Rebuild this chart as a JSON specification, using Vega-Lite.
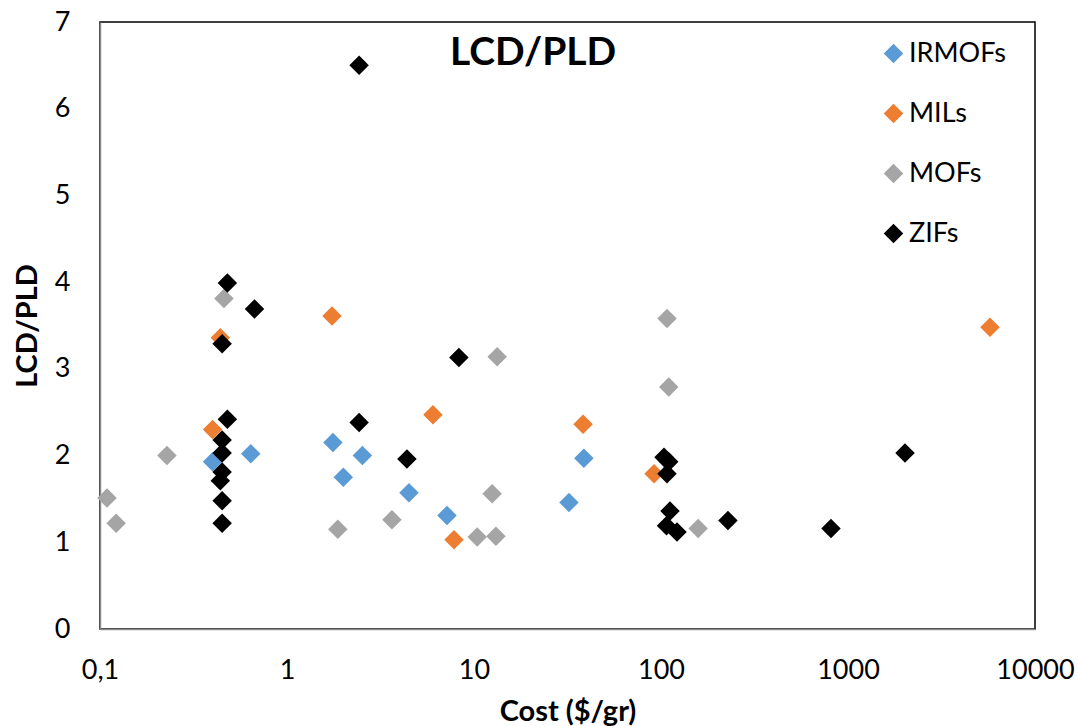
{
  "$schema": "https://vega.github.io/schema/vega-lite/v6.json",
  "width": 935,
  "height": 607,
  "autosize": {"type": "none"},
  "padding": {"left": 100, "top": 22, "right": 43, "bottom": 97},
  "background": "white",
  "config": {
    "font": "Lato",
    "view": {"stroke": "#000000", "strokeWidth": 1.5},
    "axis": {"grid": false, "ticks": false, "domainColor": "#8c8c8c", "domainWidth": 1.5, "labelColor": "#000000", "titleColor": "#000000", "labelFont": "Lato", "titleFont": "Lato", "labelFontSize": 27, "titleFontSize": 29, "titleFontWeight": "bold"}
  },
  "data": {
    "values": [
      {"cost": 0.40, "ratio": 1.93, "group": "IRMOFs"},
      {"cost": 0.64, "ratio": 2.02, "group": "IRMOFs"},
      {"cost": 1.76, "ratio": 2.15, "group": "IRMOFs"},
      {"cost": 2.0, "ratio": 1.75, "group": "IRMOFs"},
      {"cost": 2.53, "ratio": 2.0, "group": "IRMOFs"},
      {"cost": 4.49, "ratio": 1.57, "group": "IRMOFs"},
      {"cost": 7.17, "ratio": 1.31, "group": "IRMOFs"},
      {"cost": 32.2, "ratio": 1.46, "group": "IRMOFs"},
      {"cost": 38.7, "ratio": 1.97, "group": "IRMOFs"},
      {"cost": 0.40, "ratio": 2.30, "group": "MILs"},
      {"cost": 0.44, "ratio": 3.36, "group": "MILs"},
      {"cost": 1.74, "ratio": 3.61, "group": "MILs"},
      {"cost": 6.03, "ratio": 2.47, "group": "MILs"},
      {"cost": 38.3, "ratio": 2.36, "group": "MILs"},
      {"cost": 7.82, "ratio": 1.03, "group": "MILs"},
      {"cost": 91.8, "ratio": 1.79, "group": "MILs"},
      {"cost": 5745, "ratio": 3.48, "group": "MILs"},
      {"cost": 0.109, "ratio": 1.51, "group": "MOFs"},
      {"cost": 0.122, "ratio": 1.22, "group": "MOFs"},
      {"cost": 0.228, "ratio": 2.0, "group": "MOFs"},
      {"cost": 0.46, "ratio": 3.81, "group": "MOFs"},
      {"cost": 1.87, "ratio": 1.15, "group": "MOFs"},
      {"cost": 3.64, "ratio": 1.26, "group": "MOFs"},
      {"cost": 10.4, "ratio": 1.06, "group": "MOFs"},
      {"cost": 13.1, "ratio": 1.07, "group": "MOFs"},
      {"cost": 12.5, "ratio": 1.56, "group": "MOFs"},
      {"cost": 13.3, "ratio": 3.14, "group": "MOFs"},
      {"cost": 107.7, "ratio": 3.58, "group": "MOFs"},
      {"cost": 110, "ratio": 2.79, "group": "MOFs"},
      {"cost": 158, "ratio": 1.16, "group": "MOFs"},
      {"cost": 2.43, "ratio": 6.50, "group": "ZIFs"},
      {"cost": 0.48, "ratio": 3.99, "group": "ZIFs"},
      {"cost": 0.67, "ratio": 3.69, "group": "ZIFs"},
      {"cost": 0.45, "ratio": 3.29, "group": "ZIFs"},
      {"cost": 0.48, "ratio": 2.42, "group": "ZIFs"},
      {"cost": 0.45, "ratio": 2.18, "group": "ZIFs"},
      {"cost": 0.45, "ratio": 2.03, "group": "ZIFs"},
      {"cost": 0.45, "ratio": 1.81, "group": "ZIFs"},
      {"cost": 0.44, "ratio": 1.71, "group": "ZIFs"},
      {"cost": 0.45, "ratio": 1.48, "group": "ZIFs"},
      {"cost": 0.45, "ratio": 1.22, "group": "ZIFs"},
      {"cost": 8.3, "ratio": 3.13, "group": "ZIFs"},
      {"cost": 2.43, "ratio": 2.38, "group": "ZIFs"},
      {"cost": 4.38, "ratio": 1.96, "group": "ZIFs"},
      {"cost": 103.8, "ratio": 1.98, "group": "ZIFs"},
      {"cost": 110, "ratio": 1.93, "group": "ZIFs"},
      {"cost": 107.7, "ratio": 1.79, "group": "ZIFs"},
      {"cost": 111.7, "ratio": 1.36, "group": "ZIFs"},
      {"cost": 107, "ratio": 1.19, "group": "ZIFs"},
      {"cost": 121.8, "ratio": 1.12, "group": "ZIFs"},
      {"cost": 228, "ratio": 1.25, "group": "ZIFs"},
      {"cost": 811, "ratio": 1.16, "group": "ZIFs"},
      {"cost": 2018, "ratio": 2.03, "group": "ZIFs"}
    ]
  },
  "layer": [
    {
      "mark": {"type": "point", "shape": "diamond", "filled": true, "opacity": 1, "size": 380},
      "encoding": {
        "x": {
          "field": "cost", "type": "quantitative", "title": "Cost ($/gr)",
          "scale": {"type": "log", "domain": [0.1, 10000], "nice": false},
          "axis": {"values": [0.1, 1, 10, 100, 1000, 10000], "labelExpr": "datum.value == 0.1 ? '0,1' : format(datum.value, 'd')", "labelPadding": 28, "titlePadding": 14, "labelFlush": false, "labelOverlap": false}
        },
        "y": {
          "field": "ratio", "type": "quantitative", "title": "LCD/PLD",
          "scale": {"domain": [0, 7], "nice": false, "zero": true},
          "axis": {"values": [0, 1, 2, 3, 4, 5, 6, 7], "format": "d", "labelPadding": 30, "titlePadding": 12}
        },
        "color": {
          "field": "group", "type": "nominal",
          "scale": {"domain": ["IRMOFs", "MILs", "MOFs", "ZIFs"], "range": ["#5B9BD5", "#ED7D31", "#A5A5A5", "#000000"]},
          "legend": {"orient": "none", "legendX": 780, "legendY": 18, "title": null, "symbolType": "diamond", "symbolSize": 380, "symbolStrokeWidth": 0, "symbolOpacity": 1, "labelFontSize": 27, "labelFont": "Lato", "labelColor": "#000000", "labelOffset": 2, "rowPadding": 32, "padding": 0}
        }
      }
    },
    {
      "data": {"values": [{"label": "LCD/PLD"}]},
      "mark": {"type": "text", "font": "Lato", "fontSize": 39, "fontWeight": "bold", "color": "#000000", "align": "center", "baseline": "middle"},
      "encoding": {
        "text": {"field": "label", "type": "nominal"},
        "x": {"datum": 20.7, "type": "quantitative"},
        "y": {"datum": 6.64, "type": "quantitative"}
      }
    }
  ]
}
